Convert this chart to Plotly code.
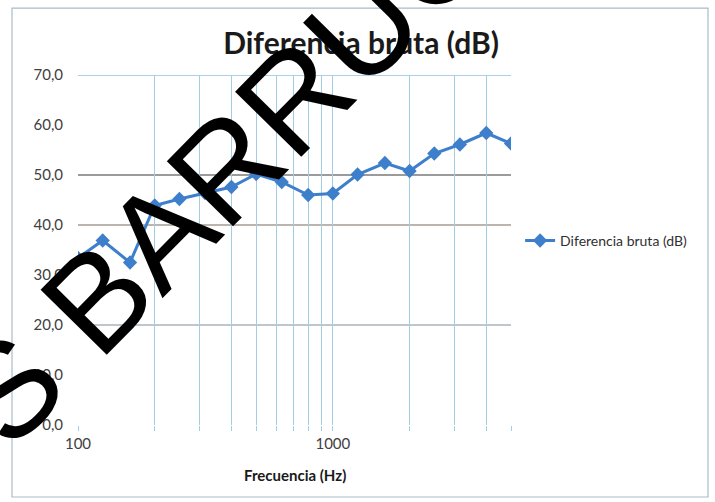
import plotly.graph_objects as go

# Data
freq = [100, 125, 160, 200, 250, 315, 400, 500, 630, 800, 1000, 1250, 1600, 2000, 2500, 3150, 4000, 5000]
dif_bruta = [33.4, 36.9, 32.5, 43.9, 45.2, 46.4, 47.6, 50.2, 48.6, 46.0, 46.3, 50.1, 52.4, 50.8, 54.3, 56.1, 58.4, 56.3]

x_grid_vals = [100, 200, 300, 400, 500, 600, 700, 800, 900, 1000, 2000, 3000, 4000, 5000]
x_grid_text = ["100", "", "", "", "", "", "", "", "", "1000", "", "", "", ""]
y_ticks = [0, 10, 20, 30, 40, 50, 60, 70]

series_name = "Diferencia bruta (dB)"
title_text = "Diferencia bruta (dB)"
x_title = "Frecuencia (Hz)"
watermark = "S BARRUCO"

BLUE = "#3E7FCB"
FONT = "Lato"

fig = go.Figure()
fig.add_trace(go.Scatter(
    x=freq, y=dif_bruta, mode="lines+markers", name=series_name,
    line=dict(color=BLUE, width=3),
    marker=dict(symbol="diamond", size=11, color=BLUE),
))

# horizontal grid lines (as visible in the reference)
for yv, col in [(70, "#8ec3dd"), (50, "#7a7a7a"), (40, "#a59d96"), (20, "#a8b4bc")]:
    fig.add_shape(type="line", xref="paper", yref="y", x0=0, x1=1, y0=yv, y1=yv,
                  line=dict(color=col, width=1.3), layer="below")

# outer chart border
fig.add_shape(type="rect", xref="paper", yref="paper",
              x0=-0.1524, x1=1.455, y0=-0.2057, y1=1.191,
              line=dict(color="#a9bcc8", width=1.2), layer="below")

fig.update_layout(
    width=715, height=502,
    margin=dict(l=78, r=204, t=75, b=77),
    paper_bgcolor="white", plot_bgcolor="white",
    separators=",.",
    font=dict(family=FONT, color="#404040", size=15),
    title=dict(text="<b>" + title_text + "</b>", x=0.505, y=0.914,
               xanchor="center", yanchor="middle",
               font=dict(family=FONT, size=30, color="#1a1a1a")),
    showlegend=True,
    legend=dict(x=1.021, y=0.526, xanchor="left", yanchor="middle",
                font=dict(family=FONT, size=14, color="#303030"),
                bgcolor="rgba(0,0,0,0)"),
    xaxis=dict(type="log", range=[2, 3.69897], tickvals=x_grid_vals, ticktext=x_grid_text,
               showgrid=True, gridcolor="#a3cde3", gridwidth=1,
               ticks="outside", ticklen=5, tickcolor="#a3cde3",
               showline=False, zeroline=False,
               tickfont=dict(family=FONT, size=15, color="#404040")),
    yaxis=dict(range=[0, 70], tickvals=y_ticks, tickformat=".1f",
               showgrid=False, zeroline=False, showline=False,
               ticks="", ticklabelstandoff=14,
               tickfont=dict(family=FONT, size=15, color="#404040")),
)

fig.add_annotation(text="<b>" + x_title + "</b>", xref="paper", yref="paper",
                   x=0.5, y=-0.143, showarrow=False, xanchor="center", yanchor="middle",
                   font=dict(family=FONT, size=15, color="#1a1a1a"))

fig.add_annotation(text=watermark, xref="paper", yref="paper",
                   x=0.4157, y=0.831, showarrow=False, xanchor="center", yanchor="middle",
                   textangle=-45.5,
                   font=dict(family="Liberation Sans", size=135, color="black"))

fig.write_html("out.html", config={"displayModeBar": False},
               post_script="document.body.style.margin='0';document.body.style.padding='0';")
